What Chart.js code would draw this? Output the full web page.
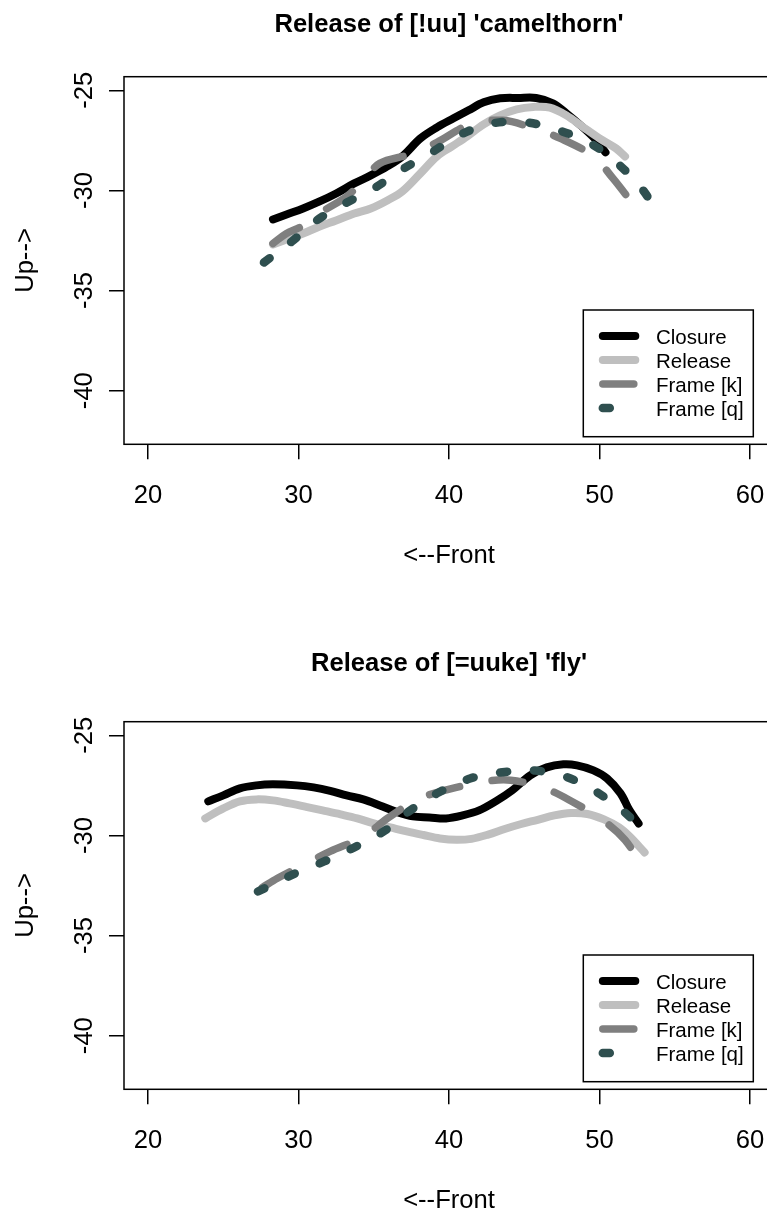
<!DOCTYPE html>
<html>
<head>
<meta charset="utf-8">
<script src="https://cdn.jsdelivr.net/npm/chart.js@4.4.1/dist/chart.umd.min.js"></script>
<style>
    html, body { margin: 0; padding: 0; background: #fff; overflow: hidden; }
    body { width: 767px; height: 1212px; position: relative; }
    canvas { position: absolute; left: 0; }
    #camelChart { top: 0; }
    #flyChart { top: 645px; }
</style>
</head>
<body>
<canvas id="camelChart" width="774" height="645"></canvas>
<canvas id="flyChart" width="774" height="645"></canvas>
<script>
// series names and axis ticks
const seriesLabels = ['Closure', 'Release', 'Frame [k]', 'Frame [q]'];
const xTicks = [20, 30, 40, 50, 60];
const yTicks = [-40, -35, -30, -25];

// Release of [!uu] 'camelthorn'
const camelClosureX = [28.3, 29.2, 30.3, 31.4, 32.5, 33.7, 34.8, 35.9, 36.9, 38.1, 39.2, 40.3, 41.3, 42.3, 43.4, 44.6, 45.8, 46.9, 47.8, 48.9, 49.8, 50.4];
const camelClosureY = [-31.45, -31.2, -30.9, -30.55, -30.15, -29.65, -29.25, -28.8, -28.3, -27.4, -26.85, -26.4, -26.0, -25.6, -25.4, -25.38, -25.38, -25.65, -26.15, -26.85, -27.5, -28.1];
const camelReleaseX = [28.3, 29.2, 30.3, 31.4, 32.5, 33.7, 34.8, 35.9, 36.9, 38.1, 39.2, 40.2, 41.2, 42.3, 43.4, 44.5, 45.6, 46.7, 47.8, 48.9, 50.0, 51.1, 51.7];
const camelReleaseY = [-32.7, -32.45, -32.15, -31.8, -31.5, -31.15, -30.9, -30.5, -30.05, -29.15, -28.3, -27.8, -27.3, -26.7, -26.25, -25.95, -25.83, -25.86, -26.25, -26.83, -27.4, -27.9, -28.3];
const camelFrameKX = [28.3, 29.2, 30.2, 31.7, 33.2, 34.3, 35.4, 37.4, 39.2, 41.4, 43.6, 45.6, 47.4, 49.6, 50.9, 52.1];
const camelFrameKY = [-32.65, -32.15, -31.8, -31.0, -30.3, -29.5, -28.65, -28.2, -27.6, -26.7, -26.5, -26.9, -27.4, -28.3, -29.4, -30.55];
const camelFrameQX = [27.7, 29.55, 31.2, 33.1, 35.0, 36.9, 38.85, 40.8, 42.9, 45.1, 47.3, 49.4, 51.2, 52.8, 53.9];
const camelFrameQY = [-33.6, -32.55, -31.5, -30.65, -29.9, -28.95, -28.1, -27.2, -26.65, -26.6, -27.0, -27.65, -28.65, -29.9, -31.15];

// Release of [=uuke] 'fly'
const flyClosureX = [24.0, 25.0, 26.1, 27.2, 28.3, 29.9, 31.0, 32.1, 33.2, 34.3, 35.4, 36.5, 37.6, 38.7, 39.8, 40.9, 42.0, 43.1, 44.2, 45.4, 46.5, 47.6, 48.5, 49.6, 50.5, 51.4, 52.0, 52.6];
const flyClosureY = [-28.3, -28.0, -27.65, -27.5, -27.45, -27.5, -27.6, -27.77, -28.0, -28.2, -28.5, -28.82, -29.05, -29.1, -29.15, -29.0, -28.75, -28.3, -27.75, -27.0, -26.6, -26.45, -26.5, -26.75, -27.15, -27.9, -28.75, -29.4];
const flyReleaseX = [23.8, 25.0, 26.1, 27.2, 28.3, 29.4, 30.5, 31.6, 32.8, 33.9, 35.0, 36.1, 37.2, 38.3, 39.4, 40.5, 41.5, 42.6, 43.7, 44.8, 45.9, 47.0, 48.1, 49.2, 50.3, 51.3, 52.0, 53.0];
const flyReleaseY = [-29.15, -28.65, -28.3, -28.2, -28.25, -28.4, -28.57, -28.75, -28.95, -29.15, -29.4, -29.6, -29.8, -29.98, -30.15, -30.22, -30.17, -29.96, -29.68, -29.43, -29.22, -29.0, -28.88, -28.93, -29.2, -29.6, -30.05, -30.85];
const flyFrameKX = [27.6, 28.6, 30.3, 32.1, 34.3, 35.9, 37.9, 39.0, 40.5, 42.1, 44.1, 46.4, 48.2, 50.2, 51.7, 52.9];
const flyFrameKY = [-32.6, -32.14, -31.48, -30.8, -30.07, -29.15, -28.2, -27.9, -27.6, -27.33, -27.24, -27.66, -28.32, -29.23, -30.23, -31.64];
const flyFrameQX = [27.3, 29.8, 31.7, 33.7, 35.8, 37.3, 39.2, 41.4, 43.4, 45.7, 47.8, 49.7, 51.5, 52.4];
const flyFrameQY = [-32.8, -31.89, -31.3, -30.6, -29.73, -28.82, -27.9, -27.16, -26.86, -26.76, -27.08, -27.78, -28.74, -29.35];

const seriesStyles = [
    { color: '#000000', width: 8, dash: [] },
    { color: '#bfbfbf', width: 8, dash: [] },
    { color: '#7f7f7f', width: 7.5, dash: [31, 33] },
    { color: '#2f4f4f', width: 8.5, dash: [7, 27] },
];

Chart.defaults.font.family = '"Liberation Sans", Arial, Helvetica, sans-serif';
Chart.defaults.color = '#000';

const points = (xs, ys) => xs.map((x, i) => ({ x: x, y: ys[i] }));

// R-like legend in the bottom right corner of the plot
const legendBox = {
    id: 'legendBox',
    afterDatasetsDraw(chart) {
        const { ctx, chartArea } = chart;
        const w = 170;
        const h = 126.7;
        const left = chartArea.right - 20.7 - w;
        const top = chartArea.bottom - 7.6 - h;

        ctx.save();
        ctx.fillStyle = '#fff';
        ctx.fillRect(left, top, w, h);
        ctx.strokeStyle = '#000';
        ctx.lineWidth = 1.5;
        ctx.strokeRect(left, top, w, h);

        chart.data.datasets.forEach((ds, i) => {
            const y = top + 26 + i * 24;
            ctx.beginPath();
            ctx.setLineDash(ds.borderDash);
            ctx.lineCap = 'round';
            ctx.lineWidth = ds.borderWidth;
            ctx.strokeStyle = ds.borderColor;
            ctx.moveTo(left + 19.5, y);
            ctx.lineTo(left + 52, y);
            ctx.stroke();
            ctx.setLineDash([]);
            ctx.fillStyle = '#000';
            ctx.font = '20.5px "Liberation Sans", Arial, sans-serif';
            ctx.textBaseline = 'middle';
            ctx.fillText(ds.label, left + 72.7, y + 2);
        });
        ctx.restore();
    },
};

const frameBox = {
    id: 'frameBox',
    afterDraw(chart) {
        const { ctx, chartArea: a } = chart;
        ctx.save();
        ctx.strokeStyle = '#000';
        ctx.lineWidth = 1.5;
        ctx.strokeRect(a.left, a.top, a.right - a.left, a.bottom - a.top);
        ctx.restore();
    },
};

function makeChart(canvasId, title, titleTop, xsList, ysList) {
    const datasets = seriesLabels.map((label, i) => ({
        label: label,
        data: points(xsList[i], ysList[i]),
        borderColor: seriesStyles[i].color,
        borderWidth: seriesStyles[i].width,
        borderDash: seriesStyles[i].dash,
        borderCapStyle: 'round',
        borderJoinStyle: 'round',
        pointRadius: 0,
        tension: 0.35,
        fill: false,
        order: seriesLabels.length - i,
    }));

    return new Chart(document.getElementById(canvasId), {
        type: 'line',
        data: { datasets: datasets },
        options: {
            responsive: false,
            animation: false,
            events: [],
            layout: {
                padding: { top: 0, left: 0, right: 0, bottom: 70.7 },
            },
            plugins: {
                legend: { display: false },
                tooltip: { enabled: false },
                title: {
                    display: true,
                    text: title,
                    fullSize: false,
                    color: '#000',
                    font: { size: 25.6, weight: 'bold' },
                    padding: { top: titleTop, bottom: 76.7 - 30.72 - titleTop },
                },
            },
            scales: {
                x: {
                    type: 'linear',
                    min: 18.4,
                    max: 61.6,
                    afterBuildTicks: (axis) => { axis.ticks = xTicks.map((v) => ({ value: v })); },
                    afterFit: (axis) => {
                        axis.height = 130;
                        axis.paddingLeft = 0;
                        axis.paddingRight = 0;
                    },
                    border: { display: false },
                    grid: { drawOnChartArea: false, drawTicks: true, tickLength: 15, color: '#000', lineWidth: 1.5 },
                    ticks: {
                        color: '#000',
                        font: { size: 25.6 },
                        padding: 21,
                        maxRotation: 0,
                        autoSkip: false,
                        callback: (v) => String(v),
                    },
                    title: {
                        display: true,
                        text: '<--Front',
                        color: '#000',
                        font: { size: 25.6 },
                        padding: { top: 0, bottom: 3 },
                    },
                },
                y: {
                    type: 'linear',
                    min: -42.68,
                    max: -24.32,
                    afterBuildTicks: (axis) => { axis.ticks = yTicks.map((v) => ({ value: v })); },
                    afterFit: (axis) => {
                        axis.width = 124;
                        axis.paddingTop = 0;
                        axis.paddingBottom = 0;
                    },
                    border: { display: false },
                    grid: { drawOnChartArea: false, drawTicks: true, tickLength: 15, color: '#000', lineWidth: 1.5 },
                    ticks: {
                        color: '#000',
                        font: { size: 25.6 },
                        padding: 6,
                        minRotation: 90,
                        maxRotation: 90,
                        crossAlign: 'center',
                        autoSkip: false,
                        callback: (v) => String(v),
                    },
                    title: {
                        display: true,
                        text: 'Up-->',
                        color: '#000',
                        font: { size: 25.6 },
                        padding: { top: 11, bottom: 0 },
                    },
                },
            },
        },
        plugins: [legendBox, frameBox],
    });
}

makeChart('camelChart', "Release of [!uu] 'camelthorn'", 9.7,
    [camelClosureX, camelReleaseX, camelFrameKX, camelFrameQX],
    [camelClosureY, camelReleaseY, camelFrameKY, camelFrameQY]);

makeChart('flyChart', "Release of [=uuke] 'fly'", 3.7,
    [flyClosureX, flyReleaseX, flyFrameKX, flyFrameQX],
    [flyClosureY, flyReleaseY, flyFrameKY, flyFrameQY]);
</script>
</body>
</html>
